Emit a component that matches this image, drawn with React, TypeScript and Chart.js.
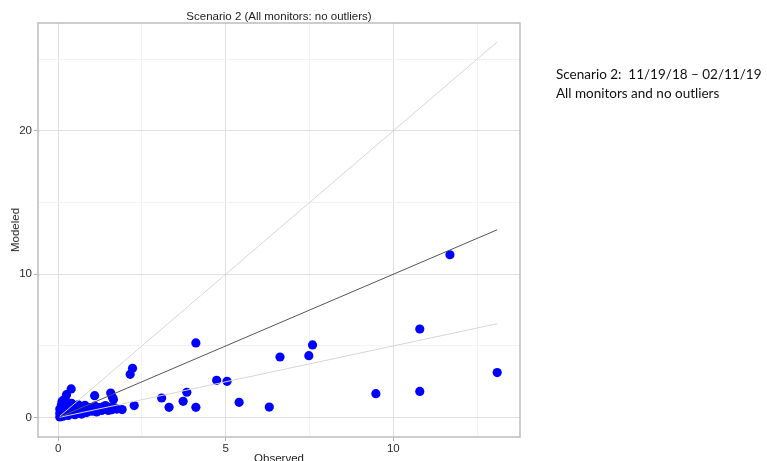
import React, { useEffect, useRef } from "react";
import { Chart, registerables } from "chart.js";

Chart.register(...registerables);

// Scatter data (Observed vs Modeled)
const observed = [
  0.05, 0.08, 0.1, 0.12, 0.15, 0.1, 0.2, 0.25, 0.3, 0.35, 0.2, 0.4, 0.45, 0.5, 0.55, 0.6, 0.65, 0.7, 0.75, 0.8,
  0.85, 0.9, 0.95, 1.0, 1.05, 1.1, 1.15, 1.2, 1.25, 1.3, 1.35, 1.41, 1.45, 1.5, 1.55, 1.6, 1.69, 1.75, 1.91, 0.3,
  0.15, 0.05, 0.25, 0.1, 0.4, 0.6, 0.05, 0.3, 0.5, 0.7, 0.12, 0.18,
  0.39, 0.25, 1.09, 1.57, 1.62, 1.65, 2.27, 2.22, 2.15, 4.11, 4.73, 5.04, 3.84, 3.09, 3.73, 3.31, 4.11, 5.4, 6.3,
  6.62, 7.48, 7.59, 9.48, 10.79, 10.79, 11.69, 13.1,
];
const modeled = [
  0.05, 0.2, 0.4, 0.6, 0.8, 0.9, 0.3, 0.5, 0.7, 0.9, 1.0, 0.4, 0.6, 0.8, 0.3, 0.5, 0.7, 0.4, 0.6, 0.85,
  0.35, 0.55, 0.7, 0.45, 0.6, 0.8, 0.4, 0.55, 0.7, 0.5, 0.75, 0.84, 0.6, 0.5, 0.7, 0.55, 0.68, 0.6, 0.56, 0.15,
  0.1, 0.3, 1.1, 0.7, 1.0, 0.9, 0.6, 0.35, 0.2, 0.25, 1.15, 1.25,
  2.0, 1.6, 1.53, 1.72, 1.42, 1.26, 0.84, 3.44, 3.02, 5.21, 2.6, 2.53, 1.77, 1.37, 1.14, 0.72, 0.72, 1.07, 0.74,
  4.23, 4.32, 5.07, 1.67, 1.83, 6.18, 11.36, 3.14,
];

// Reference lines (2:1, 1:1, 1:2) endpoints
const refX = [0.05, 13.1];
const ref2to1Y = [0.1, 26.2];
const ref1to1Y = [0.05, 13.1];
const ref1to2Y = [0.025, 6.55];

// Axes
const xTicks = [0, 2.5, 5, 7.5, 10, 12.5];
const yTicks = [0, 5, 10, 15, 20, 25];
const xMajor = [0, 5, 10];
const yMajor = [0, 10, 20];

const title = "Scenario 2 (All monitors: no outliers)";
const xTitle = "Observed";
const yTitle = "Modeled";
const noteLines = ["Scenario 2:  11/19/18 \u2013 02/11/19", "All monitors and no outliers"];

const FONT = "'Liberation Sans', Arial, sans-serif";

export default function App() {
  const ref = useRef<HTMLCanvasElement | null>(null);

  useEffect(() => {
    const canvas = ref.current;
    if (!canvas) return;
    const pts = observed.map((x, i) => ({ x, y: modeled[i] }));
    const mk = (ys: number[]) => refX.map((x, i) => ({ x, y: ys[i] }));

    const borderPlugin = {
      id: "panelBorder",
      afterDraw(chart: any) {
        const { ctx, chartArea } = chart;
        ctx.save();
        ctx.strokeStyle = "#bdbdbd";
        ctx.lineWidth = 1.5;
        ctx.strokeRect(chartArea.left, chartArea.top, chartArea.right - chartArea.left, chartArea.bottom - chartArea.top);
        ctx.restore();
      },
    };

    const chart = new Chart(canvas, {
      type: "scatter",
      data: {
        datasets: [
          { type: "line", data: mk(ref2to1Y), borderColor: "#d6d6d6", borderWidth: 1, pointRadius: 0, order: 0 } as any,
          { type: "line", data: mk(ref1to1Y), borderColor: "#555555", borderWidth: 1, pointRadius: 0, order: 0 } as any,
          { type: "line", data: mk(ref1to2Y), borderColor: "#d6d6d6", borderWidth: 1, pointRadius: 0, order: 0 } as any,
          { data: pts, backgroundColor: "#0000ff", borderWidth: 0, pointRadius: 4.6, order: 1 },
        ],
      },
      options: {
        responsive: false,
        animation: false,
        devicePixelRatio: 1,
        layout: { padding: { left: 0, right: 247, top: 23, bottom: 0 } },
        plugins: { legend: { display: false }, title: { display: false }, tooltip: { enabled: false } },
        scales: {
          x: {
            type: "linear",
            min: -0.6,
            max: 13.78,
            afterFit: (s: any) => {
              s.height = 24;
            },
            afterBuildTicks: (s: any) => {
              s.ticks = xTicks.map((v) => ({ value: v }));
            },
            border: { display: false },
            grid: {
              color: (c: any) => (xMajor.includes(c.tick?.value) ? "#e0e0e0" : "#f3f3f3"),
              tickColor: (c: any) => (xMajor.includes(c.tick?.value) ? "#b0b0b0" : "rgba(0,0,0,0)"),
              tickLength: 4,
              lineWidth: 1,
            },
            ticks: {
              autoSkip: false,
              maxRotation: 0,
              padding: 1,
              color: "#2b2b2b",
              font: { family: FONT, size: 11.5 },
              callback: (v: any) => (xMajor.includes(Number(v)) ? String(v) : ""),
            },
          },
          y: {
            type: "linear",
            min: -1.35,
            max: 27.52,
            afterFit: (s: any) => {
              s.width = 38;
            },
            afterBuildTicks: (s: any) => {
              s.ticks = yTicks.map((v) => ({ value: v }));
            },
            border: { display: false },
            grid: {
              color: (c: any) => (yMajor.includes(c.tick?.value) ? "#e0e0e0" : "#f3f3f3"),
              tickColor: (c: any) => (yMajor.includes(c.tick?.value) ? "#b0b0b0" : "rgba(0,0,0,0)"),
              tickLength: 4,
              lineWidth: 1,
            },
            ticks: {
              autoSkip: false,
              padding: 2,
              color: "#2b2b2b",
              font: { family: FONT, size: 11.5 },
              callback: (v: any) => (yMajor.includes(Number(v)) ? String(v) : ""),
            },
          },
        },
      },
      plugins: [borderPlugin],
    } as any);
    return () => chart.destroy();
  }, []);

  return (
    <div style={{ position: "absolute", left: 0, top: 0, width: 767, height: 461, overflow: "hidden", background: "#fff" }}>
      <canvas ref={ref} width={767} height={461} style={{ position: "absolute", left: 0, top: 0 }} />
      <div
        style={{
          position: "absolute",
          left: 38,
          width: 482,
          top: 9,
          textAlign: "center",
          font: `11.5px ${FONT}`,
          color: "#222",
          lineHeight: "14px",
        }}
      >
        {title}
      </div>
      <div
        style={{
          position: "absolute",
          left: 38,
          width: 482,
          top: 451,
          textAlign: "center",
          font: `11.5px ${FONT}`,
          color: "#222",
          lineHeight: "14px",
        }}
      >
        {xTitle}
      </div>
      <div
        style={{
          position: "absolute",
          left: 15,
          top: 230,
          transform: "translate(-50%, -50%) rotate(-90deg)",
          font: `11.5px ${FONT}`,
          color: "#222",
          lineHeight: "14px",
          whiteSpace: "nowrap",
        }}
      >
        {yTitle}
      </div>
      <div
        style={{
          position: "absolute",
          left: 556,
          top: 65,
          font: `13.5px Lato, 'Open Sans', sans-serif`,
          color: "#111",
          lineHeight: "19px",
          whiteSpace: "pre",
        }}
      >
        {noteLines.map((l, i) => (
          <div key={i}>{l}</div>
        ))}
      </div>
    </div>
  );
}
